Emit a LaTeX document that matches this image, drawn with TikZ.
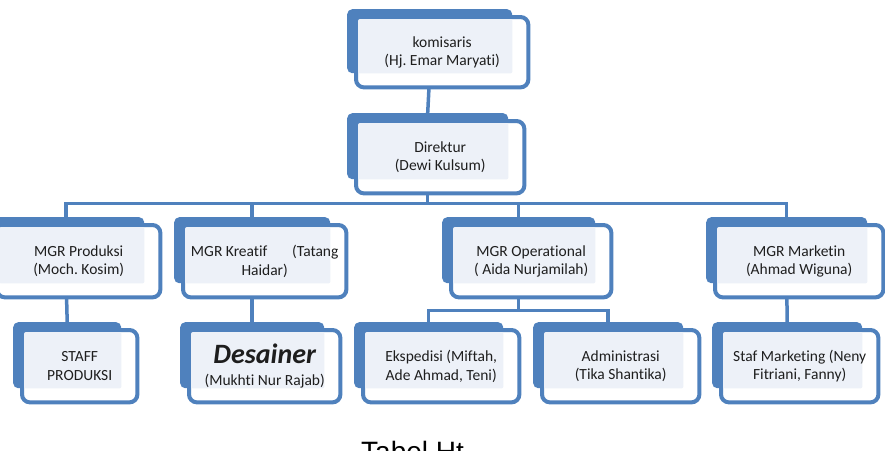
\documentclass[tikz,border=0pt]{standalone}
\usepackage{fontspec}
\setmainfont{Carlito}[Ligatures=NoCommon]
\newfontfamily\capfont{Liberation Sans}
\usetikzlibrary{backgrounds}
\frenchspacing

\definecolor{orgblue}{HTML}{4F81BD}
\definecolor{orglight}{HTML}{EDF1F8}
\definecolor{orgtext}{HTML}{1E1E1E}

\tikzset{
	backbox/.style={fill=orgblue, rounded corners=5pt, inner sep=0pt, anchor=north west},
	frontbox/.style={draw=orgblue, fill=white, line width=4pt, rounded corners=8pt},
	lightbox/.style={fill=orglight, rounded corners=2pt},
	unittext/.style={align=center, text=orgtext, inner sep=0pt,
		font=\fontsize{15.5}{18.5}\selectfont},
	link/.style={draw=orgblue, line width=3.5pt},
	tabletitle/.style={anchor=north west, inner sep=0pt, text=black,
		font=\capfont\fontsize{28}{32}\selectfont}
}

% unit box: name, left, top, width, height, label
\newcommand{\orgunit}[6]{%
	\node[backbox, minimum width=#4pt, minimum height=#5pt] (#1) at (#2,#3) {};
	\draw[frontbox] ([shift={(9pt,-8pt)}]#1.north west) rectangle ([shift={(16pt,-14pt)}]#1.south east);
	\fill[lightbox] ([shift={(11pt,-10pt)}]#1.north west) rectangle (#1.south east);
	\node[unittext] (#1-text) at ([shift={(12.5pt,-11pt)}]#1.center) {#6};
}

\begin{document}
\begin{tikzpicture}[x=1pt, y=-1pt]
		\useasboundingbox (0,0) rectangle (885,450);

		\orgunit{kom}{347}{9}{165}{64}{komisaris\\(Hj. Emar Maryati)}
		\orgunit{dir}{347}{113}{161}{66}{Direktur\\(Dewi Kulsum)}

		\orgunit{prod}{-12}{217}{156}{66}{MGR Produksi\\(Moch. Kosim)}
		\orgunit{krea}{174}{217}{156}{66}{MGR Kreatif\hspace{1.6em}(Tatang\\Haidar)}
		\orgunit{oper}{442}{217}{153}{66}{MGR Operational\\( Aida Nurjamilah)}
		\orgunit{mark}{706}{217}{161}{66}{MGR Marketin\\(Ahmad Wiguna)}

		\orgunit{stpr}{13}{322}{108}{66}{STAFF\\PRODUKSI}
		\orgunit{desa}{180}{322}{144}{66}{{\fontsize{28}{28}\selectfont\bfseries\itshape Desainer}\\[3pt](Mukhti Nur Rajab)}
		\orgunit{eksp}{354}{322}{149}{66}{Ekspedisi (Miftah,\\Ade Ahmad, Teni)}
		\orgunit{admn}{533}{322}{150}{66}{Administrasi\\(Tika Shantika)}
		\orgunit{stmk}{712}{322}{150}{66}{Staf Marketing (Neny\\Fitriani, Fanny)}

		\begin{scope}[on background layer]
			\draw[link] (kom.south) -- (dir.north);
			\draw[link] (dir.south) -- ++(0,-24pt) coordinate (bus);
			\foreach \m in {prod,krea,oper,mark}
				\draw[link] (bus) -| (\m.north);
			\draw[link] (oper.south) -- ++(0,-27pt) coordinate (opbus);
			\foreach \m in {eksp,admn}
				\draw[link] (opbus) -| (\m.north);
			\draw[link] (prod.south) -- (stpr.north);
			\draw[link] (krea.south) -- (desa.north);
			\draw[link] (mark.south) -- (stmk.north);
		\end{scope}

		\node[tabletitle] (title) at (361,441) {Tabel Ht};
\end{tikzpicture}
\end{document}
